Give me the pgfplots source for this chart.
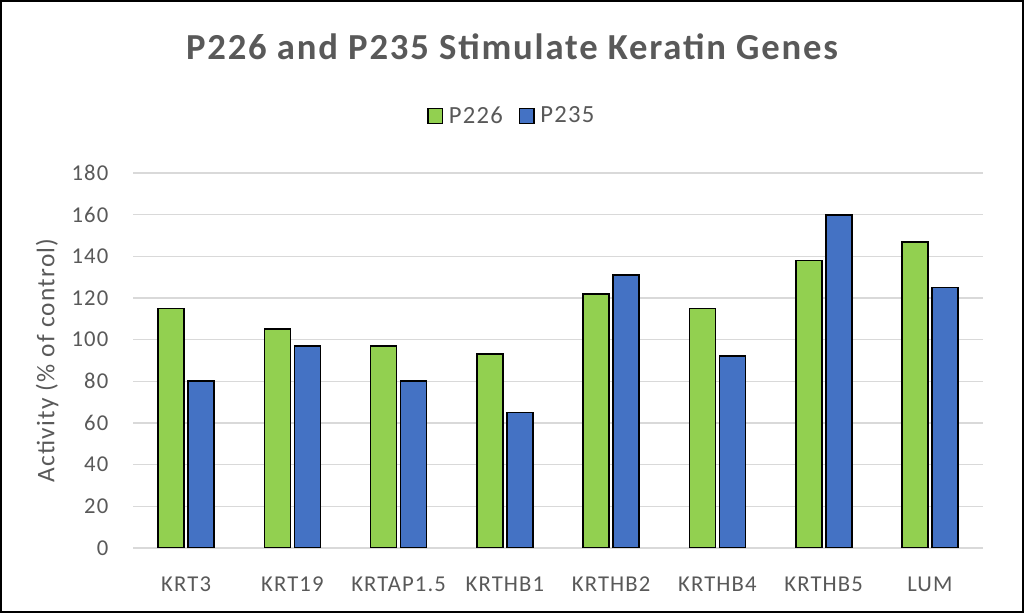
\documentclass[border=0pt]{standalone}
\usepackage{fontspec}
\setmainfont{Carlito}[LetterSpace=5]
\usepackage{pgfplots}
\pgfplotsset{compat=1.18}
\definecolor{txtgray}{HTML}{595959}
\definecolor{gridgray}{HTML}{D9D9D9}
\definecolor{pgreen}{HTML}{92D050}
\definecolor{pblue}{HTML}{4472C4}
\begin{document}
\begin{tikzpicture}
\useasboundingbox (0,0) rectangle (768pt,459.75pt);
\draw[line width=1.5pt] (0.75pt,0.75pt) rectangle (767.25pt,459pt);
\node[font=\fontsize{27.5}{32}\selectfont\bfseries, text=txtgray] at (384pt,424.5pt) {P226 and P235 Stimulate Keratin Genes};
\begin{axis}[
    at={(99.75pt,48.75pt)}, anchor=south west,
    scale only axis,
    width=637.5pt, height=281.25pt,
    ybar=3pt, bar width=19.5pt,
    xmin=-0.5, xmax=7.5,
    ymin=0, ymax=180,
    ytick={0,20,...,180},
    xtick=data,
    xticklabels={KRT3,KRT19,KRTAP1.5,KRTHB1,KRTHB2,KRTHB4,KRTHB5,LUM},
    axis line style={draw=none},
    x axis line style={draw=gridgray, line width=1pt},
    axis x line*=bottom,
    axis y line*=left,
    y axis line style={draw=none},
    tick style={draw=none},
    ymajorgrids, grid style={gridgray, line width=1pt},
    ticklabel style={text=txtgray, font=\fontsize{17}{20}\selectfont},
    /pgf/number format/assume math mode=true,
    yticklabel style={xshift=-15pt},
    xticklabel style={yshift=-14pt},
    ylabel={Activity (\% of control)},
    ylabel style={at={(rel axis cs:-0.101,0.5)}, anchor=center, text=txtgray, font=\fontsize{19}{22}\selectfont},
    legend style={at={(rel axis cs:0.446,1.152)}, anchor=center, draw=none, legend columns=2,
        font=\fontsize{18.5}{21}\selectfont, text=txtgray,
        /tikz/every odd column/.append style={column sep=2pt},
        /tikz/every even column/.append style={column sep=10pt}},
    legend image code/.code={\draw[#1, line width=1.2pt] (0pt,-5.5pt) rectangle (11pt,5.5pt);},
]
\addplot[fill=pgreen, draw=black, line width=1.3pt] coordinates {
    (0,115) (1,105) (2,97) (3,93) (4,122) (5,115) (6,138) (7,147)
};
\addlegendentry{P226}
\addplot[fill=pblue, draw=black, line width=1.3pt] coordinates {
    (0,80) (1,97) (2,80) (3,65) (4,131) (5,92) (6,160) (7,125)
};
\addlegendentry{P235}
\end{axis}
\end{tikzpicture}
\end{document}
